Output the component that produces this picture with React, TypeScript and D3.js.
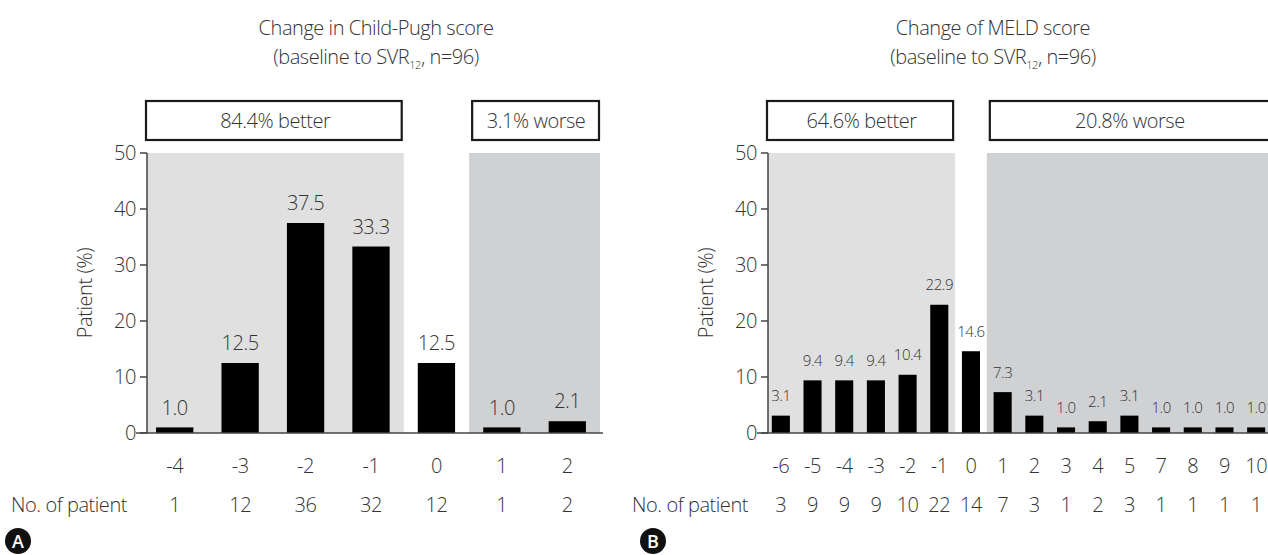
import React from 'react';
import * as d3 from 'd3';

// Child-Pugh panel
const cpCategories = [-4, -3, -2, -1, 0, 1, 2];
const cpPercent = [1.0, 12.5, 37.5, 33.3, 12.5, 1.0, 2.1];
const cpPatients = [1, 12, 36, 32, 12, 1, 2];

// MELD panel
const meldCategories = [-6, -5, -4, -3, -2, -1, 0, 1, 2, 3, 4, 5, 7, 8, 9, 10];
const meldPercent = [3.1, 9.4, 9.4, 9.4, 10.4, 22.9, 14.6, 7.3, 3.1, 1.0, 2.1, 3.1, 1.0, 1.0, 1.0, 1.0];
const meldPatients = [3, 9, 9, 9, 10, 22, 14, 7, 3, 1, 2, 3, 1, 1, 1, 1];

const yTicks = [0, 10, 20, 30, 40, 50];

const FONT = "'Open Sans', sans-serif";
const TEXT = '#333';
const FS = 20;
const LS = -0.45;
const W = 1268;
const H = 555;

type PanelProps = {
  title: string;
  cats: number[];
  pct: number[];
  counts: number[];
  better: string;
  worse: string;
  x0: number;
  x1: number;
  axisX: number;
  titleX: number;
  badge: string;
  badgeX: number;
  valueSize: number;
};

const Panel = ({ title, cats, pct, counts, better, worse, x0, x1, axisX, titleX, badge, badgeX, valueSize }: PanelProps) => {
  const x = d3.scaleBand<number>().domain(cats).range([x0, x1]).padding(0);
  const step = x.step();
  const barW = step * 0.57;
  const y = d3.scaleLinear().domain([0, 50]).range([433, 153]);

  const neg = cats.filter(c => c < 0);
  const pos = cats.filter(c => c > 0);
  const betterEnd = (x(neg[neg.length - 1]) as number) + step;
  const worseStart = x(pos[0]) as number;

  return (
    <g fontFamily={FONT} fontWeight={300} fill={TEXT} letterSpacing={LS}>
      {/* title */}
      <text x={titleX} y={35} textAnchor="middle" fontSize={FS}>{title}</text>
      <text x={titleX} y={64} textAnchor="middle" fontSize={FS}>
        (baseline to SVR<tspan fontSize={11} dy={5}>12</tspan><tspan dy={-5}>, n=96)</tspan>
      </text>

      {/* shaded regions */}
      <rect x={axisX} y={y(50)} width={betterEnd - axisX} height={y(0) - y(50)} fill="#e0e0e0" />
      <rect x={worseStart} y={y(50)} width={x1 - worseStart} height={y(0) - y(50)} fill="#d0d1d3" />

      {/* summary boxes */}
      <rect x={axisX - 1} y={101} width={betterEnd - axisX - 1} height={39} fill="white" stroke="#1a1a1a" strokeWidth={2.2} />
      <text x={(axisX + betterEnd) / 2} y={128} textAnchor="middle" fontSize={FS}>{better}</text>
      <rect x={worseStart + 3} y={101} width={x1 - worseStart - 4} height={39} fill="white" stroke="#1a1a1a" strokeWidth={2.2} />
      <text x={(worseStart + 3 + Math.min(x1, W + 2)) / 2} y={128} textAnchor="middle" fontSize={FS}>{worse}</text>

      {/* bars */}
      {cats.map((c, i) => (
        <g key={c}>
          <rect x={(x(c) as number) + (step - barW) / 2} y={y(pct[i])} width={barW} height={y(0) - y(pct[i])} fill="#000" />
          <text x={(x(c) as number) + step / 2} y={y(pct[i]) - 20 + valueSize * 0.36} textAnchor="middle" fontSize={valueSize}>
            {pct[i].toFixed(1)}
          </text>
          <text x={(x(c) as number) + step / 2} y={473} textAnchor="middle" fontSize={FS}>{c}</text>
          <text x={(x(c) as number) + step / 2} y={512} textAnchor="middle" fontSize={FS}>{counts[i]}</text>
        </g>
      ))}

      {/* axes */}
      <line x1={axisX} x2={axisX} y1={y(50)} y2={y(0)} stroke="#444" strokeWidth={1.5} />
      <line x1={axisX - 11} x2={x1 + 3} y1={y(0)} y2={y(0)} stroke="#444" strokeWidth={1.5} />
      {yTicks.map(t => (
        <g key={t}>
          <line x1={axisX - 7} x2={axisX} y1={y(t)} y2={y(t)} stroke="#444" strokeWidth={1.5} />
          <text x={axisX - 11} y={y(t) + 7} textAnchor="end" fontSize={FS}>{t}</text>
        </g>
      ))}
      <text transform={`translate(${axisX - 55},${(y(0) + y(50)) / 2}) rotate(-90)`} textAnchor="middle" fontSize={FS}>
        Patient (%)
      </text>
      <text x={axisX - 20} y={512} textAnchor="end" fontSize={FS}>No. of patient</text>

      {/* panel badge */}
      <circle cx={badgeX} cy={541} r={13} fill="#111" />
      <text x={badgeX} y={548} textAnchor="middle" fontSize={18} fontWeight={600} letterSpacing={0} fill="#fff">{badge}</text>
    </g>
  );
};

export default function App() {
  return (
    <svg width={W} height={H} style={{ position: 'absolute', left: 0, top: 0, background: '#fff' }}>
      <Panel
        title="Change in Child-Pugh score"
        cats={cpCategories}
        pct={cpPercent}
        counts={cpPatients}
        better="84.4% better"
        worse="3.1% worse"
        x0={142}
        x1={600}
        axisX={147}
        titleX={376}
        badge="A"
        badgeX={18}
        valueSize={FS}
      />
      <Panel
        title="Change of MELD score"
        cats={meldCategories}
        pct={meldPercent}
        counts={meldPatients}
        better="64.6% better"
        worse="20.8% worse"
        x0={765}
        x1={1272}
        axisX={768}
        titleX={993}
        badge="B"
        badgeX={653}
        valueSize={15}
      />
    </svg>
  );
}
